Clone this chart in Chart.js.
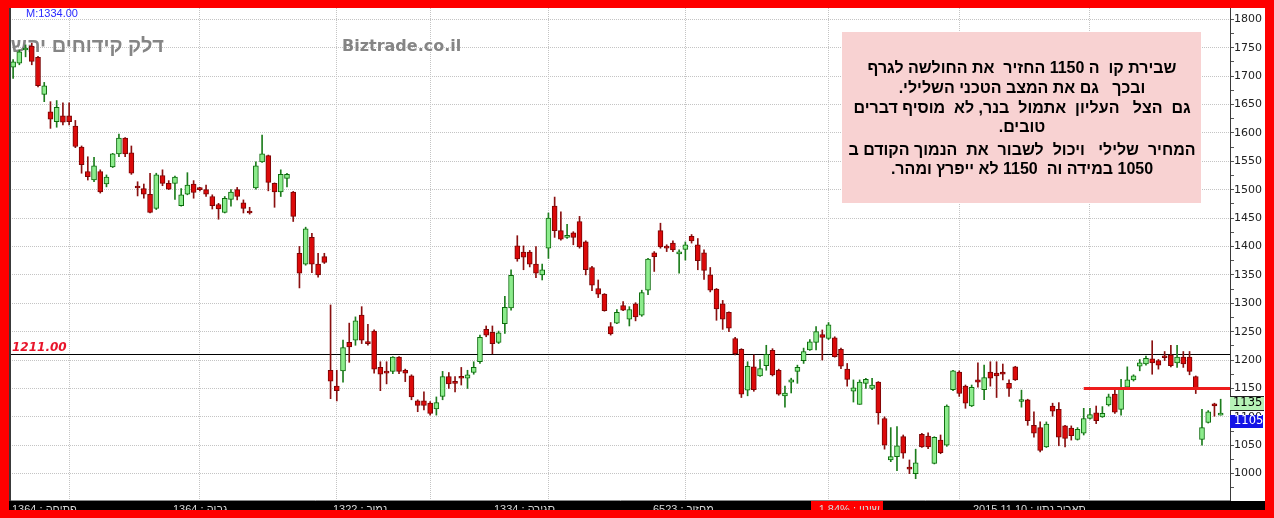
<!DOCTYPE html>
<html><head><meta charset="utf-8">
<script src="https://cdn.jsdelivr.net/npm/chart.js@4.4.1/dist/chart.umd.min.js"></script>
<style>html,body{margin:0;padding:0;background:#ff0000;overflow:hidden}canvas{display:block}</style>
</head><body>
<canvas id="c" width="1274" height="518"></canvas>
<script>
// ---- data ----
const opens = [1716,1723,1746,1753,1733,1668,1637,1620,1630,1630,1612,1575,1532,1517,1532,1510,1540,1563,1591,1565,
1505,1502,1492,1467,1525,1511,1511,1472,1492,1510,1501,1500,1488,1474,1460,1483,1500,1477,1460,1503,
1549,1560,1511,1496,1520,1496,1388,1369,1416,1369,1382,1182,1154,1181,1231,1235,1279,1230,1251,1187,
1178,1180,1205,1182,1172,1128,1128,1124,1114,1136,1171,1162,1170,1168,1178,1197,1254,1249,1231,1264,
1292,1401,1390,1390,1369,1350,1397,1471,1428,1416,1424,1444,1408,1363,1326,1316,1259,1265,1296,1272,
1299,1279,1323,1389,1428,1399,1406,1387,1395,1418,1403,1389,1350,1325,1299,1284,1238,1219,1147,1188,
1172,1190,1217,1182,1137,1161,1180,1199,1218,1231,1245,1238,1239,1219,1184,1145,1122,1159,1150,1161,
1097,1024,1030,1065,1010,1000,1069,1066,1018,1059,1050,1148,1179,1154,1119,1165,1148,1179,1177,1179,
1159,1188,1127,1130,1085,1081,1047,1119,1113,1084,1080,1060,1071,1097,1107,1100,1121,1140,1113,1152,
1165,1189,1193,1202,1199,1206,1209,1195,1205,1205,1171,1060,1090,1123,1103];
const highs = [1729,1746,1755,1758,1735,1689,1655,1657,1653,1653,1622,1577,1558,1557,1535,1526,1564,1598,1592,1577,
1514,1510,1529,1529,1535,1516,1524,1502,1530,1516,1504,1508,1491,1476,1488,1500,1504,1482,1469,1549,
1596,1561,1512,1535,1529,1497,1400,1434,1423,1388,1388,1297,1182,1235,1265,1276,1294,1263,1253,1197,
1197,1206,1206,1184,1174,1130,1144,1127,1135,1180,1178,1171,1187,1182,1197,1244,1260,1260,1251,1312,
1359,1419,1401,1393,1400,1369,1459,1487,1461,1439,1426,1453,1410,1365,1341,1317,1266,1289,1303,1294,
1301,1323,1379,1391,1441,1403,1410,1394,1408,1421,1414,1394,1363,1326,1305,1285,1240,1220,1197,1209,
1201,1226,1220,1184,1154,1168,1191,1221,1236,1259,1253,1266,1241,1221,1194,1165,1165,1168,1168,1162,
1100,1081,1083,1068,1024,1043,1071,1072,1065,1068,1121,1182,1181,1156,1156,1195,1191,1197,1197,1193,
1165,1189,1147,1131,1109,1091,1091,1124,1125,1085,1084,1081,1115,1115,1119,1118,1140,1150,1166,1188,
1174,1201,1207,1234,1201,1215,1226,1226,1215,1215,1172,1113,1111,1124,1131];
const lows = [1696,1720,1734,1720,1681,1655,1608,1610,1614,1614,1574,1529,1517,1514,1494,1505,1539,1558,1558,1527,
1489,1485,1459,1465,1507,1500,1483,1471,1491,1485,1498,1488,1466,1448,1459,1471,1482,1459,1457,1501,
1548,1498,1469,1488,1505,1444,1327,1367,1354,1346,1370,1132,1128,1161,1196,1226,1229,1226,1177,1146,
1158,1176,1176,1162,1130,1109,1112,1103,1103,1130,1150,1144,1156,1150,1175,1194,1241,1211,1229,1247,
1288,1374,1359,1364,1345,1341,1379,1416,1411,1414,1403,1397,1350,1322,1310,1286,1244,1264,1287,1260,
1269,1277,1315,1356,1397,1391,1391,1353,1376,1406,1359,1342,1320,1270,1254,1250,1209,1134,1137,1145,
1171,1182,1172,1138,1117,1142,1159,1194,1217,1218,1200,1236,1205,1185,1154,1126,1122,1150,1148,1087,
1043,1021,1005,1027,1000,991,1046,1044,1017,1035,1048,1146,1136,1115,1118,1152,1130,1154,1134,1165,
1136,1164,1117,1085,1064,1038,1046,1101,1049,1047,1059,1059,1068,1096,1088,1099,1119,1106,1103,1150,
1163,1181,1191,1175,1184,1199,1188,1187,1187,1174,1141,1050,1089,1101,1103];
const closes = [1725,1743,1749,1726,1683,1683,1624,1645,1619,1620,1576,1544,1523,1542,1496,1522,1563,1591,1563,1529,
1503,1492,1460,1526,1511,1501,1522,1491,1508,1495,1500,1492,1472,1466,1485,1496,1488,1467,1459,1542,
1563,1513,1496,1527,1527,1453,1353,1431,1369,1350,1372,1163,1146,1222,1223,1269,1235,1229,1184,1175,
1177,1205,1180,1177,1135,1120,1120,1106,1125,1171,1158,1159,1168,1174,1187,1240,1244,1229,1248,1293,
1349,1378,1381,1369,1353,1359,1450,1428,1413,1418,1416,1399,1359,1332,1316,1287,1246,1284,1288,1289,
1276,1319,1378,1382,1399,1397,1394,1389,1403,1410,1375,1358,1323,1290,1272,1256,1211,1140,1189,1148,
1185,1210,1174,1140,1142,1165,1187,1215,1232,1250,1240,1262,1206,1189,1166,1151,1161,1166,1156,1107,
1050,1030,1049,1036,1008,1019,1047,1047,1064,1037,1119,1181,1141,1124,1152,1161,1169,1168,1172,1175,
1150,1165,1130,1093,1071,1041,1087,1110,1064,1062,1067,1078,1097,1104,1093,1106,1135,1108,1152,1165,
1172,1195,1203,1195,1191,1204,1190,1205,1193,1180,1150,1081,1109,1119,1105];
const monthStarts = [9,30,52,67,86,108,131,152,173];
const yTickValues = [975,1000,1025,1050,1075,1100,1125,1150,1175,1200,1225,1250,1275,1300,1325,1350,1375,1400,
1425,1450,1475,1500,1525,1550,1575,1600,1625,1650,1675,1700,1725,1750,1775,1800];
const refLevel = 1211;
const refLabel = '1211.00';
const breakLevel = 1150;
const breakStartIndex = 172;
const lastLabel = 1105;
const upperLabel = 1135;
const noteLines = [
 'שבירת קו  ה 1150 החזיר  את החולשה לגרף',
 'ובכך   גם את המצב הטכני השלילי.',
 'גם  הצל   העליון  אתמול  בנר, לא  מוסיף דברים',
 'טובים.',
 'המחיר  שלילי   ויכול  לשבור  את  הנמוך הקודם ב',
 '1050 במידה וה  1150 לא ייפרץ ומהר.'
];
const titleText = 'דלק קידוחים יהש';
const siteText = 'Biztrade.co.il';
const topInfo = 'M:1334.00';
const bandTexts = ['1364 : פתיחה','1364 : גבוה','1322 : נמוך','1334 : סגירה','6523 : מחזור','-1.84% : שינוי','2015.11.10 : תאריך נתון'];

// ---- build datasets ----
const idx = opens.map((_, i) => i);
const isUp = idx.map(i => closes[i] >= opens[i]);
const bodyData = idx.map(i => ({x: i, y: [Math.min(opens[i], closes[i]), Math.max(opens[i], closes[i])]}));
const wickData = idx.map(i => ({x: i, y: [lows[i], highs[i]]}));

const overlay = {
  id: 'overlay',
  beforeDraw(chart) {
    const c = chart.ctx;
    c.save();
    c.fillStyle = '#ff0000'; c.fillRect(0, 0, 1274, 518);
    c.fillStyle = '#ffffff'; c.fillRect(9, 8, 1256, 493);
    c.restore();
  },
  beforeDatasetsDraw(chart) {
    const {ctx: c, chartArea: a, scales: {y}} = chart;
    c.save();
    c.fillStyle = '#858585';
    c.textBaseline = 'alphabetic';
    c.direction = 'rtl'; c.textAlign = 'right';
    c.font = 'bold 20px "Liberation Sans", Arial, sans-serif';
    c.fillText(titleText, 164, 52);
    c.direction = 'ltr'; c.textAlign = 'left';
    c.font = 'bold 16px "DejaVu Sans", Verdana, sans-serif';
    c.fillText(siteText, 342, 51);
    // reference level line
    const ry = Math.round(y.getPixelForValue(refLevel)) + 0.5;
    c.strokeStyle = '#000'; c.lineWidth = 1;
    c.beginPath(); c.moveTo(a.left, ry); c.lineTo(a.right, ry); c.stroke();
    c.fillStyle = '#e8142a';
    c.font = 'italic bold 12px "DejaVu Sans", Verdana, sans-serif';
    c.fillText(refLabel, 12, ry - 4);
    c.restore();
  },
  afterDatasetsDraw(chart) {
    const {ctx: c, chartArea: a, scales: {x, y}} = chart;
    c.save();
    // break line
    const by = y.getPixelForValue(breakLevel);
    c.strokeStyle = '#ee1c1c'; c.lineWidth = 3;
    c.beginPath(); c.moveTo(x.getPixelForValue(breakStartIndex), by); c.lineTo(a.right, by); c.stroke();
    // note box
    c.fillStyle = '#f8d2d2';
    c.fillRect(842, 32, 359, 171);
    c.fillStyle = '#000';
    c.font = 'bold 16px "Liberation Sans", Arial, sans-serif';
    c.textAlign = 'center'; c.direction = 'rtl';
    const ys = [73, 93, 113, 132, 155, 174];
    noteLines.forEach((t, i) => c.fillText(t, 1022, ys[i]));
    c.restore();
  },
  afterDraw(chart) {
    const {ctx: c, chartArea: a, scales: {y}} = chart;
    c.save();
    // axis value boxes
    const gy = Math.round(y.getPixelForValue(upperLabel)) + 6;
    c.fillStyle = '#b6f2b6'; c.fillRect(a.right, gy - 6, 34, 13);
    c.fillStyle = '#222'; c.fillRect(a.right, gy - 7, 34, 1); c.fillRect(a.right, gy + 7, 34, 1);
    c.font = '11.5px "DejaVu Sans", Verdana, sans-serif';
    c.textBaseline = 'middle'; c.textAlign = 'left';
    c.fillStyle = '#000'; c.fillText(String(upperLabel), a.right + 3, gy + 0.5);
    const ly = Math.round(y.getPixelForValue(lastLabel)) + 7;
    c.fillStyle = '#1414e6'; c.fillRect(a.right, ly - 6, 33, 13);
    c.fillStyle = '#fff'; c.fillText(String(lastLabel), a.right + 4, ly + 0.5);
    // left border line
    c.fillStyle = '#3a3a3a'; c.fillRect(9, 8, 2, 493);
    // bottom band
    c.fillStyle = '#000'; c.fillRect(9, 501, 1256, 9);
    c.fillStyle = '#ff0000'; c.fillRect(811, 501, 72, 9);
    c.fillStyle = '#d8d8d8';
    c.font = '11px "Liberation Sans", Arial, sans-serif';
    c.textBaseline = 'alphabetic'; c.textAlign = 'left'; c.direction = 'ltr';
    const bx = [12, 173, 333, 494, 653, 815, 973];
    bandTexts.forEach((t, i) => c.fillText(t, bx[i], 513));
    // top info text
    c.fillStyle = '#2a2aff';
    c.font = '11px "Liberation Sans", Arial, sans-serif';
    c.fillText(topInfo, 26, 17);
    // red frame clipping
    c.fillStyle = '#ff0000';
    c.fillRect(0, 510, 1274, 8);
    c.fillRect(0, 0, 1274, 8);
    c.fillRect(0, 0, 9, 518);
    c.fillRect(1265, 0, 9, 518);
    c.restore();
  }
};

new Chart(document.getElementById('c'), {
  type: 'bar',
  data: {
    datasets: [
      {
        label: 'body', data: bodyData, grouped: false, order: 0,
        barThickness: 5, borderWidth: 1, borderSkipped: false, minBarLength: 2,
        backgroundColor: idx.map(i => isUp[i] ? '#8cec8c' : '#dc0a0a'),
        borderColor: idx.map(i => isUp[i] ? '#0b6b0b' : '#7a0505')
      },
      {
        label: 'wick', data: wickData, grouped: false, order: 1,
        barThickness: 1, borderWidth: 0,
        backgroundColor: idx.map(i => isUp[i] ? '#1d7d1d' : '#8a1010')
      }
    ]
  },
  options: {
    responsive: false, animation: false, events: [],
    layout: {padding: {left: 10, top: 8, right: 0, bottom: 0}},
    plugins: {legend: {display: false}, tooltip: {enabled: false}},
    scales: {
      x: {
        type: 'linear', min: -0.5, max: 195.5, offset: false,
        afterBuildTicks: s => { s.ticks = monthStarts.map(v => ({value: v})); },
        afterFit: s => { s.height = 18; },
        ticks: {display: false},
        grid: {color: '#c4c4c4', drawTicks: false, offset: false},
        border: {display: true, color: '#8a8a8a', dash: [1, 1]}
      },
      y: {
        position: 'right', min: 953.5, max: 1820,
        afterBuildTicks: s => { s.ticks = yTickValues.map(v => ({value: v})); },
        afterFit: s => { s.width = 44; },
        ticks: {
          autoSkip: false, padding: 0, color: '#222',
          font: {family: '"DejaVu Sans", Verdana, sans-serif', size: 11},
          callback: v => (v % 50 === 0 ? String(v) : '')
        },
        grid: {
          color: ctx => (ctx.tick && ctx.tick.value % 50 === 0 ? '#c4c4c4' : 'rgba(0,0,0,0)'),
          tickColor: '#555', tickLength: 4, drawTicks: true
        },
        border: {display: true, color: '#3a3a3a', width: 1, dash: [1, 1]}
      }
    }
  },
  plugins: [overlay]
});
</script>
</body></html>
